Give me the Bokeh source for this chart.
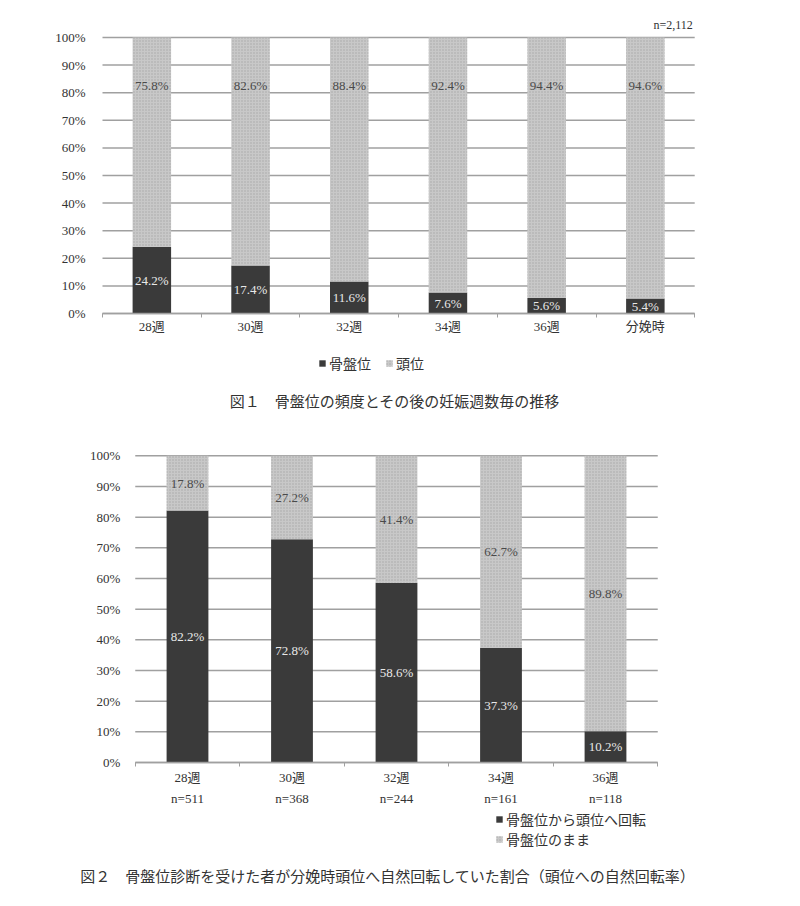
from bokeh.plotting import figure
from bokeh.models import Range1d, FixedTicker, Label, Legend, LegendItem, ColumnDataSource
from bokeh.layouts import column
from bokeh.embed import file_html
from bokeh.resources import INLINE
from bokeh.core.properties import value

# ---------------- data ----------------
cats1 = ["28週", "30週", "32週", "34週", "36週", "分娩時"]
breech1 = [24.2, 17.4, 11.6, 7.6, 5.6, 5.4]
cephalic1 = [75.8, 82.6, 88.4, 92.4, 94.4, 94.6]
total1 = "n=2,112"
legend1 = ["骨盤位", "頭位"]
caption1 = "図１　骨盤位の頻度とその後の妊娠週数毎の推移"

cats2 = ["28週", "30週", "32週", "34週", "36週"]
n2 = [511, 368, 244, 161, 118]
turned2 = [82.2, 72.8, 58.6, 37.3, 10.2]
remained2 = [17.8, 27.2, 41.4, 62.7, 89.8]
legend2 = ["骨盤位から頭位へ回転", "骨盤位のまま"]
caption2 = "図２　骨盤位診断を受けた者が分娩時頭位へ自然回転していた割合（頭位への自然回転率）"

yticks = list(range(0, 101, 10))

# ---------------- style ----------------
FONT = "'Liberation Serif', 'Noto Sans CJK JP', serif"
JFONT = "'Noto Sans CJK JP', sans-serif"
DARK = "#3a3a3a"
LIGHT = "#c8c8c8"
GRID = "#a0a0a0"
TXT = "#333333"
W = 784
ORIGIN = 0  # page offset of the figures' frames


def make_chart(labels, lower, upper, height, x0px, catpx, y0px, px10, page_top,
               bar_w, ystandoff, xstandoff, upper_label_y=None):
    """x0px: page x of category axis start; catpx: px per category;
    y0px: page y of 0%; px10: px per 10%; page_top: page y of figure top."""
    n = len(labels)
    xs = [i + 0.5 for i in range(n)]
    ppu = px10 / 10.0
    x_start = (ORIGIN - x0px) / catpx
    x_end = (ORIGIN + W - x0px) / catpx
    y_end = (y0px - page_top) / ppu
    y_start = (y0px - (page_top + height)) / ppu
    p = figure(width=W, height=height, output_backend="svg", toolbar_location=None,
               x_range=Range1d(x_start, x_end), y_range=Range1d(y_start, y_end),
               min_border=0, min_border_left=0, min_border_right=0,
               min_border_top=0, min_border_bottom=0)
    p.outline_line_color = None
    p.background_fill_color = "white"
    p.border_fill_color = "white"
    p.xgrid.grid_line_color = None
    p.ygrid.grid_line_color = None

    # grid lines over the plot area only
    p.segment(x0=[0] * len(yticks), x1=[n] * len(yticks), y0=yticks, y1=yticks,
              line_color=GRID, line_width=1.5)

    src = ColumnDataSource(dict(
        x=xs, lo=lower, up=[a + b for a, b in zip(lower, upper)],
        lo_t=[f"{v:.1f}%" for v in lower], up_t=[f"{v:.1f}%" for v in upper],
        lo_y=[v / 2 for v in lower],
        up_y=[upper_label_y if upper_label_y is not None else a + b / 2
              for a, b in zip(lower, upper)],
    ))
    r1 = p.vbar(x="x", bottom=0, top="lo", width=bar_w, source=src,
                fill_color=DARK, line_color=None)
    r2 = p.vbar(x="x", bottom="lo", top="up", width=bar_w, source=src,
                fill_color=LIGHT, line_color=None,
                hatch_pattern="dot", hatch_color="#a8a8a8", hatch_scale=3,
                hatch_weight=1)
    p.text(x="x", y="lo_y", text="lo_t", source=src, text_align="center",
           text_baseline="middle", text_font=value(FONT), text_font_size="13px",
           text_color="#e8e8e8")
    p.text(x="x", y="up_y", text="up_t", source=src, text_align="center",
           text_baseline="middle", text_font=value(FONT), text_font_size="13px",
           text_color="#4a4a4a")

    # y axis
    ya = p.yaxis[0]
    ya.fixed_location = 0
    ya.bounds = (0, 100)
    ya.ticker = FixedTicker(ticks=yticks)
    ya.major_label_overrides = {t: f"{t}%" for t in yticks}
    ya.axis_line_color = None
    ya.major_tick_line_color = None
    ya.major_tick_out = 0
    ya.major_tick_in = 0
    ya.minor_tick_line_color = None
    ya.major_label_text_font = FONT
    ya.major_label_text_font_size = "13px"
    ya.major_label_text_color = TXT
    ya.major_label_standoff = ystandoff

    # x axis
    xa = p.xaxis[0]
    xa.fixed_location = 0
    xa.bounds = (0, n)
    xa.ticker = FixedTicker(ticks=xs, minor_ticks=list(range(n + 1)))
    xa.major_label_overrides = {x: l for x, l in zip(xs, labels)}
    xa.axis_line_color = GRID
    xa.axis_line_width = 1.5
    xa.major_tick_line_color = None
    xa.major_tick_out = 0
    xa.major_tick_in = 0
    xa.minor_tick_line_color = GRID
    xa.minor_tick_out = 4
    xa.minor_tick_in = 0
    xa.major_label_text_font = FONT
    xa.major_label_text_font_size = "13px"
    xa.major_label_text_color = TXT
    xa.major_label_text_line_height = 1.45
    xa.major_label_standoff = xstandoff
    return p, r1, r2


def style_legend(leg, size):
    leg.border_line_color = None
    leg.background_fill_alpha = 0
    leg.label_text_font = JFONT
    leg.label_text_font_size = size
    leg.label_text_color = TXT
    leg.glyph_width = 8
    leg.glyph_height = 8
    leg.label_standoff = 3
    leg.padding = 0
    leg.margin = 0
    leg.label_height = 14
    return leg


# ---------- chart 1 ----------
H1, H2 = 416, 482
p1, a1, b1 = make_chart(cats1, breech1, cephalic1, H1, 102, 98.7, 313, 27.6, ORIGIN,
                        0.39, 17, 1, upper_label_y=82.6)
leg1 = Legend(items=[LegendItem(label=legend1[0], renderers=[a1]),
                     LegendItem(label=legend1[1], renderers=[b1])],
              orientation="horizontal", location=(318, 43))
style_legend(leg1, "14px")
leg1.spacing = 14
p1.add_layout(leg1)
p1.add_layout(Label(x=5.98, y=104.7, text=total1, text_align="right",
                    text_baseline="middle", text_font=FONT, text_font_size="12px",
                    text_color=TXT))
p1.add_layout(Label(x=2.96, y=-31.5, text=caption1, text_align="center",
                    text_baseline="middle", text_font=JFONT, text_font_size="15px",
                    text_color=TXT))

# ---------- chart 2 ----------
labels2 = [f"{c}\nn={v}" for c, v in zip(cats2, n2)]
p2, a2, b2 = make_chart(labels2, turned2, remained2, H2, 134.75, 104.5, 762, 30.67,
                        ORIGIN + H1, 0.40, 15, 3)
leg2 = Legend(items=[LegendItem(label=legend2[0], renderers=[a2]),
                     LegendItem(label=legend2[1], renderers=[b2])],
              orientation="vertical", location=(495, 49))
style_legend(leg2, "14px")
leg2.spacing = -2
p2.add_layout(leg2)
p2.add_layout(Label(x=-0.526, y=-37.0, text=caption2, text_align="left",
                    text_baseline="middle", text_font=JFONT, text_font_size="15px",
                    text_color=TXT))

layout = column(p1, p2, spacing=0)
open("out.html", "w").write(file_html(layout, INLINE))
